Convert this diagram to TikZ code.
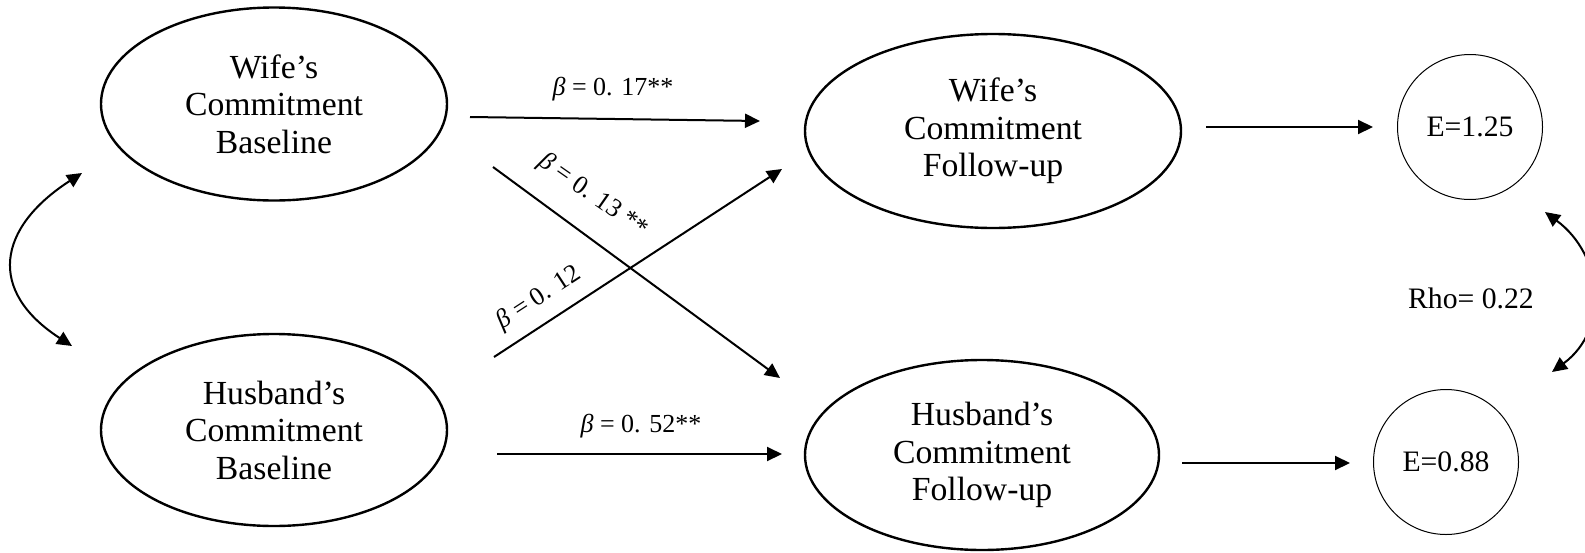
\documentclass[tikz,border=0pt]{standalone}
\usepackage{fontspec}
\setmainfont{Liberation Serif}
\usetikzlibrary{shapes.geometric,arrows.meta}
\begin{document}
\begin{tikzpicture}[x=1pt,y=-1pt,
  latent/.style={ellipse,draw,line width=2.4pt,inner sep=0pt,align=center,
    font=\fontsize{33.7}{37.5}\selectfont},
  resid/.style={circle,draw,line width=1pt,inner sep=0pt,minimum size=145pt,
    font=\fontsize{29.7}{34}\selectfont},
  pathar/.style={line width=2pt,-{Triangle[length=15pt,width=14pt]}},
  covar/.style={line width=2pt,{Triangle[length=15pt,width=14pt]}-{Triangle[length=15pt,width=14pt]}},
  coef/.style={font=\fontsize{26}{29}\selectfont,inner sep=0pt},
  lbl/.style={font=\fontsize{29.7}{34}\selectfont,inner sep=0pt}]
\useasboundingbox (0,0) rectangle (1585,552);

% latent variables
\node[latent,minimum width=346pt,minimum height=193pt] (wb) at (274,104) {Wife’s\\Commitment\\Baseline};
\node[latent,minimum width=346pt,minimum height=192pt] (hb) at (274,430) {Husband’s\\Commitment\\Baseline};
\node[latent,minimum width=376pt,minimum height=194pt] (wf) at (993,131) {Wife’s\\Commitment\\Follow-up};
\node[latent,minimum width=354pt,minimum height=190pt] (hf) at (982,455) {Husband’s\\Commitment\\Follow-up};

% residuals
\node[resid] (e1) at (1470,127) {E=1.25};
\node[resid] (e2) at (1446,462) {E=0.88};
\node[lbl] (rho) at (1471,298) {Rho= 0.22};

% connector end points
\coordinate (a1s) at (470,117);  \coordinate (a1e) at (760,121);
\coordinate (c1s) at (493,167);  \coordinate (c1e) at (780,378);
\coordinate (c2s) at (494,357);  \coordinate (c2e) at (782,169);
\coordinate (a2s) at (497,454);  \coordinate (a2e) at (782,454);
\coordinate (o1s) at (1206,127); \coordinate (o1e) at (1373,127);
\coordinate (o2s) at (1182,463); \coordinate (o2e) at (1350,463);
\coordinate (lt) at (82,173);    \coordinate (lb) at (72,346);
\coordinate (rt) at (1545,212);  \coordinate (rb) at (1552,372);

% paths
\draw[pathar] (a1s) -- (a1e);
\draw[pathar] (c1s) -- (c1e);
\draw[pathar] (c2s) -- (c2e);
\draw[pathar] (a2s) -- (a2e);
\draw[pathar] (o1s) -- (o1e);
\draw[pathar] (o2s) -- (o2e);

% covariances
\draw[covar] (lt) .. controls (-3,228) and (-13,291) .. (lb);
\draw[covar] (rt) .. controls (1603,255) and (1610,329) .. (rb);

% coefficients
\node[coef] (k17) at (613,89) {\textit{β} = 0. 17**};
\node[coef] (k52) at (641,426) {\textit{β} = 0. 52**};
\node[coef,rotate=-35] (k13) at (593,196) {\textit{β} = 0. 13 **};
\node[coef,rotate=33] (k12) at (539,298) {\textit{β} = 0. 12};
\end{tikzpicture}
\end{document}
